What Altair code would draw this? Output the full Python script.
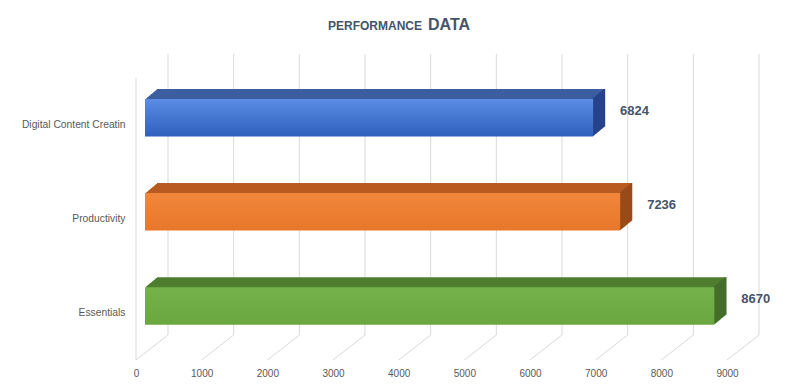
import altair as alt
import pandas as pd

# ---- data ----
categories = ["Digital Content Creatin", "Productivity", "Essentials"]
values = [6824, 7236, 8670]
tick_values = [0, 1000, 2000, 3000, 4000, 5000, 6000, 7000, 8000, 9000]
title_small = ["PERFORMANCE"]
title_big = ["DATA"]

# ---- palette ----
front_top = ["#5b8de4", "#f1863a", "#75b24b"]
front_bottom = ["#2f60bd", "#e8772b", "#6aa741"]
top_colors = ["#3d5e9f", "#b95b22", "#4f7e31"]
side_colors = ["#26438a", "#9a4b19", "#436d29"]
text_color = "#44546a"
axis_text = "#595959"
grid_color = "#d9d9d9"

bars = pd.DataFrame({"category": categories, "value": values})
ticks = pd.DataFrame({"tick": tick_values})

W, H = 591, 306
SHIFT = 9          # front face offset of the bars (depth position)
DEPTH = 12         # horizontal extrusion (px)
RISE = 10          # vertical extrusion (px)
WALL_DX, WALL_DY = 32, 25

x_scale = alt.Scale(domain=[0, 9000], nice=False, zero=True)
y_scale = alt.Scale(domain=categories, paddingInner=0.6015, paddingOuter=0.4267, align=0.56)

x_axis = alt.Axis(values=tick_values, grid=False, domain=False, ticks=False,
                  labelPadding=8, labelFontSize=10, labelColor=axis_text, labelFlush=False,
                  labelFont="Liberation Sans", title=None, format="d")
y_axis = alt.Axis(title=None, domain=False, ticks=False, labelPadding=11,
                  labelOffset=7.5, labelFontSize=10.3, labelColor=axis_text,
                  labelFont="Liberation Sans", labelLimit=300)


def X(field):
    return alt.X(field, scale=x_scale, axis=x_axis)


def Y():
    return alt.Y("category:N", scale=y_scale, sort=categories, axis=y_axis)


layers = []

# back wall gridlines
layers.append(alt.Chart(ticks).mark_rule(color=grid_color, strokeWidth=1, xOffset=WALL_DX).encode(
    x=X("tick:Q"), y=alt.value(0), y2=alt.value(H - WALL_DY)))
# floor diagonals
layers.append(alt.Chart(ticks).mark_rule(color=grid_color, strokeWidth=1, x2Offset=WALL_DX).encode(
    x=X("tick:Q"), x2=alt.X2("tick"),
    y=alt.value(H), y2=alt.value(H - WALL_DY)))
# left wall front edge
layers.append(alt.Chart(ticks).transform_filter(alt.datum.tick == tick_values[0]).mark_rule(
    color=grid_color, strokeWidth=1).encode(
    x=X("tick:Q"), y=alt.value(24), y2=alt.value(H)))

# top faces (extrusion)
for k in range(DEPTH, 0, -1):
    dx = SHIFT + k
    dy = -k * RISE / DEPTH
    layers.append(alt.Chart(bars).mark_bar(xOffset=dx, x2Offset=dx, yOffset=dy, y2Offset=dy).encode(
        x=X("value:Q"), x2=alt.datum(0), y=Y(),
        color=alt.Color("category:N", scale=alt.Scale(domain=categories, range=top_colors), legend=None)))

# side faces
for k in range(DEPTH, 0, -1):
    dy = -k * RISE / DEPTH
    layers.append(alt.Chart(bars).mark_bar(xOffset=SHIFT + k - 1.5, x2Offset=SHIFT + k,
                                           yOffset=dy, y2Offset=dy).encode(
        x=X("value:Q"), x2=alt.X2("value"), y=Y(),
        color=alt.Color("category:N", scale=alt.Scale(domain=categories, range=side_colors), legend=None)))

# front faces with gradient
for i, c in enumerate(categories):
    grad = alt.LinearGradient(gradient="linear",
                              stops=[alt.GradientStop(color=front_top[i], offset=0),
                                     alt.GradientStop(color=front_bottom[i], offset=1)],
                              x1=0, x2=0, y1=0, y2=1)
    layers.append(alt.Chart(bars).transform_filter(alt.datum.category == c).mark_bar(
        xOffset=SHIFT, x2Offset=SHIFT, color=grad).encode(
        x=X("value:Q"), x2=alt.datum(0), y=Y()))

# value labels
layers.append(alt.Chart(bars).mark_text(align="left", baseline="middle", dx=SHIFT + 27, dy=-6.5,
                                        fontWeight="bold", fontSize=13, color=text_color,
                                        font="Liberation Sans").encode(
    x=X("value:Q"), y=Y(), text=alt.Text("value:Q", format="d")))

# title
layers.append(alt.Chart(pd.DataFrame({"t": title_small})).mark_text(
    align="left", baseline="alphabetic", fontWeight="bold", fontSize=12, color=text_color,
    font="Liberation Sans").encode(x=alt.value(192), y=alt.value(-24.5), text="t:N"))
layers.append(alt.Chart(pd.DataFrame({"t": title_big})).mark_text(
    align="left", baseline="alphabetic", fontWeight="bold", fontSize=16, color=text_color,
    font="Liberation Sans").encode(x=alt.value(292), y=alt.value(-24.5), text="t:N"))

chart = alt.layer(*layers).properties(
    width=W, height=H,
    padding={"left": 128, "top": 46, "right": 57, "bottom": 25},
    autosize=alt.AutoSizeParams(type="none"),
    background="white",
).resolve_scale(color="independent").configure_view(stroke=None)

chart.save("out.html", embed_options={"renderer": "svg", "actions": False})
